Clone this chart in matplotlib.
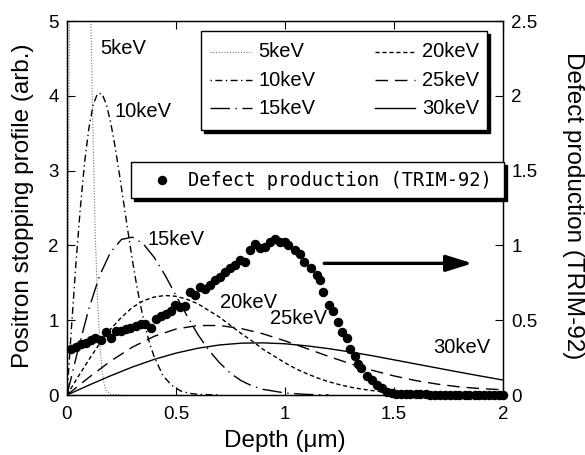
import matplotlib
matplotlib.use('Agg')
import matplotlib.pyplot as plt
from matplotlib.patches import Rectangle
from matplotlib.lines import Line2D

# positron stopping profiles (left axis, arb. units)
depth_5 = [0, 0.005, 0.011, 0.02, 0.04, 0.06, 0.08, 0.10, 0.11, 0.12, 0.13, 0.14,
           0.15, 0.16, 0.17, 0.18, 0.20, 0.25]
prof_5 = [0, 2.2, 4.8, 7.5, 12.0, 12.5, 10.0, 6.3, 4.9, 3.4, 2.1, 1.3,
          0.7, 0.35, 0.15, 0.06, 0.01, 0]

depth_10 = [0, 0.02, 0.04, 0.06, 0.08, 0.10, 0.12, 0.14, 0.16, 0.18, 0.20, 0.22,
            0.24, 0.26, 0.28, 0.30, 0.32, 0.34, 0.36, 0.38, 0.40, 0.44, 0.48,
            0.52, 0.56, 0.60, 0.70]
prof_10 = [0, 0.88, 1.72, 2.46, 3.09, 3.56, 3.88, 4.03, 4.03, 3.89, 3.65, 3.33,
           2.96, 2.57, 2.18, 1.80, 1.46, 1.16, 0.90, 0.68, 0.51, 0.26, 0.13,
           0.056, 0.023, 0.009, 0]

depth_15 = [0, 0.05, 0.10, 0.15, 0.20, 0.25, 0.30, 0.35, 0.40, 0.45, 0.50, 0.55,
            0.60, 0.65, 0.70, 0.75, 0.80, 0.85, 0.90, 1.00, 1.10, 1.20]
prof_15 = [0, 0.60, 1.15, 1.60, 1.91, 2.08, 2.11, 2.02, 1.84, 1.60, 1.33, 1.06,
           0.81, 0.60, 0.43, 0.29, 0.19, 0.12, 0.075, 0.027, 0.008, 0.002]

depth_20 = [0, 0.05, 0.10, 0.15, 0.20, 0.25, 0.30, 0.35, 0.40, 0.45, 0.50, 0.55,
            0.60, 0.65, 0.70, 0.75, 0.80, 0.85, 0.90, 0.95, 1.00, 1.05, 1.10,
            1.15, 1.20, 1.25, 1.30, 1.35, 1.40, 1.50, 1.60, 1.80, 2.00]
prof_20 = [0, 0.24, 0.47, 0.69, 0.88, 1.04, 1.17, 1.26, 1.31, 1.33, 1.32, 1.28,
           1.22, 1.13, 1.04, 0.93, 0.82, 0.72, 0.61, 0.52, 0.43, 0.35, 0.285,
           0.227, 0.178, 0.138, 0.105, 0.08, 0.059, 0.031, 0.016, 0.003, 0.001]

depth_25 = [0, 0.1, 0.2, 0.3, 0.4, 0.5, 0.6, 0.7, 0.8, 0.9, 1.0, 1.1, 1.2, 1.3,
            1.4, 1.5, 1.6, 1.7, 1.8, 1.9, 2.0]
prof_25 = [0, 0.234, 0.453, 0.640, 0.785, 0.882, 0.929, 0.929, 0.888, 0.817, 0.724,
           0.621, 0.516, 0.418, 0.330, 0.255, 0.193, 0.145, 0.108, 0.085, 0.07]

depth_30 = [0, 0.1, 0.2, 0.3, 0.4, 0.5, 0.6, 0.7, 0.8, 0.9, 1.0, 1.1, 1.2, 1.3,
            1.4, 1.5, 1.6, 1.7, 1.8, 1.9, 2.0]
prof_30 = [0, 0.131, 0.257, 0.374, 0.476, 0.560, 0.625, 0.669, 0.693, 0.697, 0.685,
           0.657, 0.620, 0.575, 0.525, 0.470, 0.415, 0.360, 0.305, 0.252, 0.20]

# defect production (TRIM-92), right axis
dot_x = [0.02, 0.04, 0.063, 0.086, 0.109, 0.13, 0.155, 0.177, 0.2, 0.223, 0.246,
         0.27, 0.29, 0.315, 0.338, 0.36, 0.384, 0.407, 0.43, 0.453, 0.476, 0.495,
         0.518, 0.54, 0.564, 0.587, 0.61, 0.633, 0.656, 0.68, 0.70, 0.725, 0.748,
         0.77, 0.794, 0.817, 0.84, 0.862, 0.885, 0.908, 0.93, 0.954, 0.977, 1.0,
         1.015, 1.045, 1.07, 1.085, 1.12, 1.145, 1.16, 1.176, 1.2, 1.22, 1.245,
         1.26, 1.283, 1.30, 1.32, 1.336, 1.35, 1.375, 1.40, 1.42, 1.444, 1.467,
         1.49, 1.51, 1.53, 1.555, 1.575, 1.60, 1.62, 1.645, 1.665, 1.69, 1.71,
         1.735, 1.755, 1.78, 1.80, 1.825, 1.845, 1.87, 1.89, 1.915, 1.935, 1.96,
         1.98, 2.0]
dot_y = [0.31, 0.32, 0.34, 0.345, 0.37, 0.38, 0.37, 0.42, 0.38, 0.43, 0.43,
         0.44, 0.45, 0.46, 0.475, 0.475, 0.45, 0.51, 0.53, 0.54, 0.56, 0.60,
         0.59, 0.595, 0.69, 0.67, 0.72, 0.71, 0.735, 0.77, 0.79, 0.82, 0.85,
         0.87, 0.90, 0.89, 0.97, 1.01, 0.98, 0.99, 1.02, 1.04, 1.02, 1.02,
         1.0, 0.97, 0.94, 0.89, 0.85, 0.80, 0.77, 0.69, 0.60, 0.56, 0.49,
         0.42, 0.38, 0.31, 0.26, 0.21, 0.18, 0.13, 0.10, 0.067, 0.045, 0.022,
         0.011, 0.008, 0.006, 0.005, 0.005, 0.004, 0.004, 0.004, 0.003, 0.003, 0.003,
         0.003, 0.003, 0.003, 0.003, 0.003, 0.003, 0.003, 0.003, 0.003, 0.003, 0.003,
         0.003, 0.003]

energies = ['5keV', '10keV', '15keV', '20keV', '25keV', '30keV']
x_ticks = [0, 0.5, 1, 1.5, 2]
x_ticklabels = ['0', '0.5', '1', '1.5', '2']
left_ticks = [0, 1, 2, 3, 4, 5]
right_ticks = [0, 0.5, 1, 1.5, 2, 2.5]
right_ticklabels = ['0', '0.5', '1', '1.5', '2', '2.5']

curves = [(depth_5, prof_5), (depth_10, prof_10), (depth_15, prof_15),
          (depth_20, prof_20), (depth_25, prof_25), (depth_30, prof_30)]
styles = [dict(ls=(0, (1, 1.5)), color='0.45', lw=0.8),
          dict(ls=(0, (1, 2.5, 5, 2.5)), color='k', lw=1.0),
          dict(ls=(0, (14, 4, 1, 4)), color='k', lw=1.0),
          dict(ls=(0, (3, 2)), color='k', lw=1.0),
          dict(ls=(0, (9, 5)), color='k', lw=1.0),
          dict(ls='-', color='k', lw=1.0)]

plt.rcParams['font.family'] = ['Liberation Sans', 'DejaVu Sans']
mono = ['DejaVu Sans Mono']
KEV_SIZE = 14.5
LABEL_SIZE = 17.5

fig = plt.figure(figsize=(5.85, 4.55), dpi=100)
AX_L, AX_R, AX_T, AX_B = 67, 503, 21, 395
ax = fig.add_axes([AX_L / 585, (455 - AX_B) / 455, (AX_R - AX_L) / 585, (AX_B - AX_T) / 455])


def frac(px, py):
    # pixel position in the picture -> axes fraction
    return (px - AX_L) / (AX_R - AX_L), (AX_B - py) / (AX_B - AX_T)


for (xs, ys), st in zip(curves, styles):
    ax.plot(xs, ys, **st)

ax.set_xlim(0, 2)
ax.set_ylim(0, 5)
ax.set_xticks(x_ticks)
ax.set_xticklabels(x_ticklabels)
ax.set_yticks(left_ticks)
ax.tick_params(direction='in', length=5.5, width=0.8, labelsize=13.5, pad=6,
               top=True, right=False)
ax.tick_params(axis='x', pad=8)

# axis titles placed at their picture positions
fig.text(23 / 585, 1 - 206 / 455, 'Positron stopping profile (arb.)', rotation=90,
         fontsize=LABEL_SIZE, ha='center', va='center')
fig.text(573 / 585, 1 - 206 / 455, 'Defect production (TRIM-92)', rotation=270,
         fontsize=LABEL_SIZE, ha='center', va='center')
fig.text(285 / 585, 1 - 441 / 455, 'Depth (\u03bcm)', fontsize=LABEL_SIZE,
         ha='center', va='center')

# keV labels next to the curves
label_pos = [(0.151, 4.63), (0.22, 3.79), (0.368, 2.085), (0.70, 1.24), (0.93, 1.02), (1.68, 0.63)]
for name, (lx, ly) in zip(energies, label_pos):
    ax.text(lx, ly, name, fontsize=KEV_SIZE, ha='left', va='center')

ax.annotate('', xy=(1.86, 1.76), xytext=(1.18, 1.76),
            arrowprops=dict(arrowstyle='-|>,head_length=1.6,head_width=0.5',
                            mutation_scale=10, lw=2.4, color='k',
                            shrinkA=0, shrinkB=0))

ax2 = ax.twinx()
ax2.plot(dot_x, dot_y, 'o', color='k', ms=5.8, clip_on=False, zorder=3)
ax2.set_ylim(0, 2.5)
ax2.set_yticks(right_ticks)
ax2.set_yticklabels(right_ticklabels)
ax2.tick_params(direction='in', length=5.5, width=0.8, labelsize=13.5, pad=6)
for a in (ax, ax2):
    for sp in a.spines.values():
        sp.set_linewidth(0.9)


def box(px0, py0, px1, py1):
    x0, y1 = frac(px0, py0)
    x1, y0 = frac(px1, py1)
    dx = 3 / (AX_R - AX_L)
    dy = 3 / (AX_B - AX_T)
    ax2.add_patch(Rectangle((x0 + dx, y0 - dy), x1 - x0, y1 - y0, transform=ax2.transAxes,
                            facecolor='k', edgecolor='k', lw=1, clip_on=False, zorder=10))
    ax2.add_patch(Rectangle((x0, y0), x1 - x0, y1 - y0, transform=ax2.transAxes,
                            facecolor='white', edgecolor='k', lw=1, clip_on=False, zorder=11))


# legend of the profiles
box(201, 31, 487, 130)
rows = [51.7, 80, 108]
cols = [(210, 252, 258), (375, 415, 422)]
for i, (name, st) in enumerate(zip(energies, styles)):
    c0, c1, tx = cols[i // 3]
    py = rows[i % 3]
    xa, ya = frac(c0, py)
    xb, _ = frac(c1, py)
    ax2.add_line(Line2D([xa, xb], [ya, ya], transform=ax2.transAxes, clip_on=False,
                        zorder=12, **st))
    xt, _ = frac(tx, py)
    ax2.text(xt, ya, name, transform=ax2.transAxes, fontsize=KEV_SIZE,
             ha='left', va='center', zorder=12)

# legend of the defect production
box(131, 162, 504, 198)
mx, my = frac(161.7, 180)
ax2.plot([mx], [my], 'o', color='k', ms=5.8, transform=ax2.transAxes, clip_on=False, zorder=12)
tx, _ = frac(188, 180)
ax2.text(tx, my, 'Defect production (TRIM-92)', transform=ax2.transAxes, family=mono,
         fontsize=13.5, ha='left', va='center', zorder=12)

fig.savefig('out.png', dpi=100)
